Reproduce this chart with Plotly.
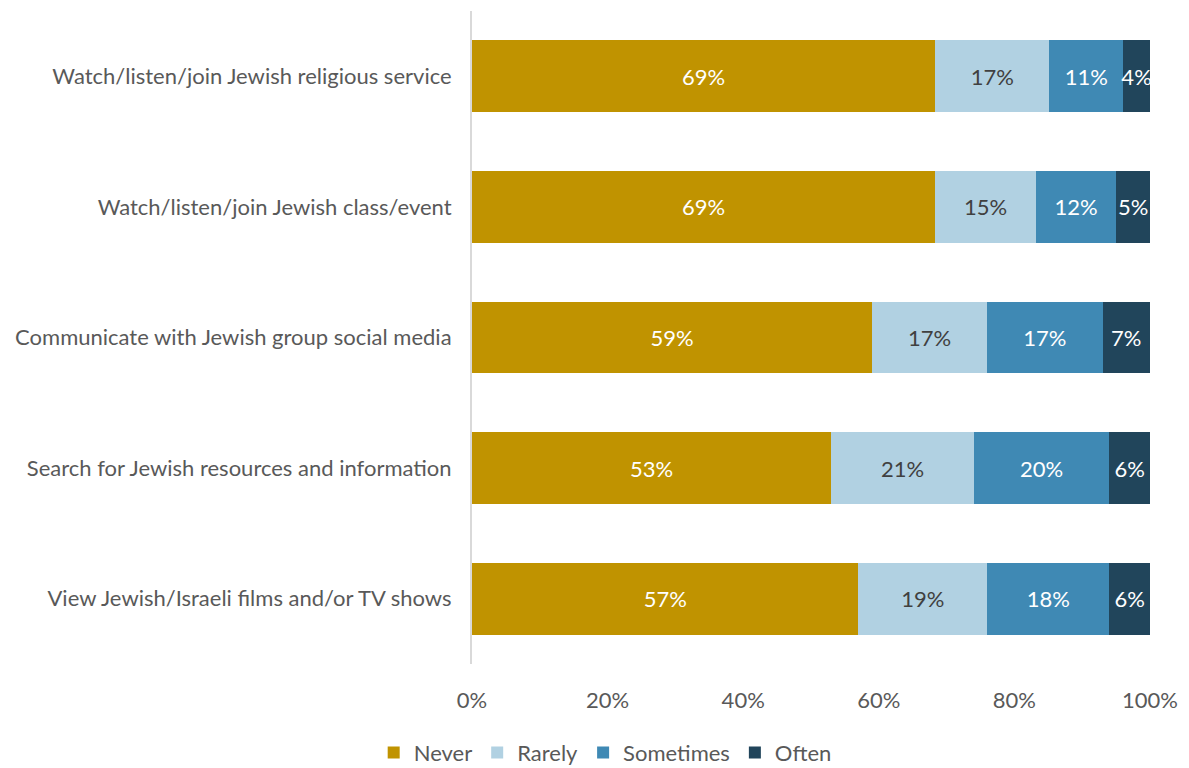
import plotly.graph_objects as go

# Survey items (top to bottom as shown)
items = [
    "Watch/listen/join Jewish religious service",
    "Watch/listen/join Jewish class/event",
    "Communicate with Jewish group social media",
    "Search for Jewish resources and information",
    "View Jewish/Israeli films and/or TV shows",
]

never = [69, 69, 59, 53, 57]
rarely = [17, 15, 17, 21, 19]
sometimes = [11, 12, 17, 20, 18]
often = [4, 5, 7, 6, 6]

series = [
    ("Never", never, "#C09300", "white"),
    ("Rarely", rarely, "#B1D1E2", "#404040"),
    ("Sometimes", sometimes, "#3F89B4", "white"),
    ("Often", often, "#21455B", "white"),
]

tick_vals = [0, 20, 40, 60, 80, 100]
tick_text = ["0%", "20%", "40%", "60%", "80%", "100%"]

FONT = "Lato, 'Open Sans', sans-serif"
SIZE = 22

fig = go.Figure()
for name, vals, color, txt_color in series:
    fig.add_trace(go.Bar(
        y=items,
        x=vals,
        name=name,
        orientation="h",
        marker=dict(color=color, line=dict(width=0)),
        text=vals,
        texttemplate="%{text}%",
        textposition="inside",
        insidetextanchor="middle",
        textangle=0,
        constraintext="none",
        textfont=dict(color=txt_color, size=SIZE, family=FONT),
    ))

fig.update_layout(
    barmode="stack",
    barnorm="percent",
    bargap=0.45,
    width=1189,
    height=768,
    paper_bgcolor="white",
    plot_bgcolor="white",
    margin=dict(l=472, r=39, t=11, b=104, autoexpand=False),
    font=dict(family=FONT, size=SIZE, color="#595959"),
    showlegend=True,
    legend=dict(
        orientation="h",
        x=-0.145,
        xanchor="left",
        y=-0.136,
        yanchor="middle",
        font=dict(size=SIZE, color="#595959", family=FONT),
        itemwidth=30,
        traceorder="normal",
    ),
    xaxis=dict(
        range=[0, 100],
        tickvals=tick_vals,
        ticktext=tick_text,
        showgrid=False,
        zeroline=False,
        showline=False,
        ticks="",
        ticklabelstandoff=21,
        tickfont=dict(size=SIZE, color="#595959", family=FONT),
        automargin=False,
        fixedrange=True,
    ),
    yaxis=dict(
        categoryorder="array",
        categoryarray=items[::-1],
        showgrid=False,
        zeroline=False,
        showline=True,
        linecolor="#D9D9D9",
        linewidth=2,
        ticks="",
        ticklabelstandoff=14,
        tickfont=dict(size=SIZE, color="#595959", family=FONT),
        automargin=False,
        fixedrange=True,
    ),
)

fig.write_html("out.html")
